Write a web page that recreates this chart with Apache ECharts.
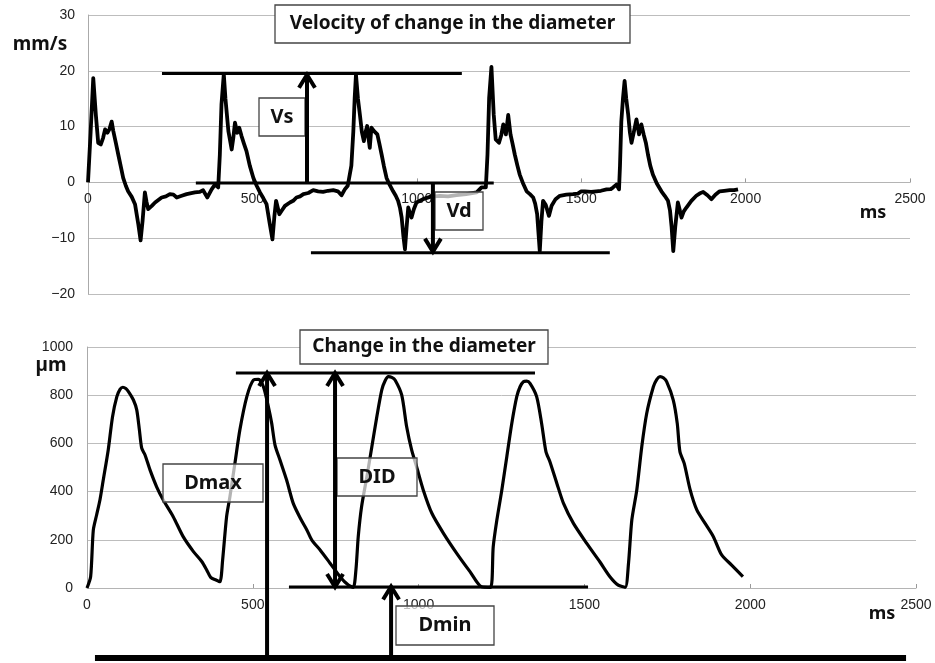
<!DOCTYPE html>
<html>
<head>
<meta charset="utf-8">
<title>Velocity / change in the diameter</title>
<script src="https://cdn.jsdelivr.net/npm/echarts@6/dist/echarts.min.js"></script>
<style>body{margin:0;background:#fff}</style>
</head>
<body>
<div id="main" style="width:935px;height:663px"></div>
<script>
// velocity of change in the diameter, mm/s against ms
var velMs = [0, 8, 16, 24, 31, 39, 46, 52, 59, 65, 72, 77, 85, 92, 100, 107, 115, 122, 133, 143, 153, 160, 166, 173, 178, 183, 194, 204, 224, 237, 249, 260, 270, 285, 300, 325, 340, 350, 363, 376, 386, 396,
  401, 406, 413, 418, 427, 437, 442, 447, 454, 460, 467, 474, 482, 492, 503, 513, 523, 533, 543, 553, 561, 567, 572, 582, 590, 599, 614, 624, 634, 645, 655, 670, 685, 700, 715, 730, 746, 760, 771, 781, 790, 796,
  801, 807, 811, 815, 821, 827, 833, 839, 844, 849, 853, 857, 862, 870, 880, 886, 893, 900, 908, 918, 928, 936, 943, 949, 954, 959, 964, 969, 974, 979, 984, 991, 999, 1019, 1040, 1070, 1095, 1121, 1150, 1182, 1197, 1210,
  1215, 1220, 1227, 1234, 1240, 1250, 1257, 1263, 1271, 1278, 1285, 1291, 1298, 1306, 1313, 1324, 1334, 1344, 1354, 1360, 1366, 1370, 1374, 1379, 1384, 1392, 1402, 1410, 1422, 1435, 1455, 1475, 1490, 1500, 1511, 1530, 1546, 1560, 1577, 1590, 1597, 1607, 1615,
  1618, 1622, 1627, 1632, 1637, 1643, 1648, 1653, 1660, 1668, 1676, 1683, 1690, 1697, 1703, 1710, 1718, 1730, 1744, 1754, 1764, 1770, 1775, 1780, 1786, 1794, 1800, 1805, 1812, 1820, 1835, 1850, 1860, 1871, 1884, 1896, 1908, 1921, 1935, 1952, 1965, 1977];
var velVal = [0, 9, 18.7, 12, 7.1, 6.8, 8, 9.5, 8.9, 9.5, 10.9, 9.2, 7, 5, 2.8, 0.8, -0.6, -1.6, -2.6, -3.9, -7.5, -10.4, -6.9, -1.8, -3.5, -4.8, -4.2, -3.6, -2.7, -2.5, -2.1, -2.2, -2.7, -2.4, -2.1, -1.8, -1.7, -1.4, -2.7, -1.25, -0.4, -0.9,
  5, 14, 19.4, 15, 9.2, 5.9, 8, 10.7, 8.9, 9.8, 8.3, 7, 5.6, 3, 0.8, -0.6, -1.8, -2.8, -3.9, -7.5, -10.2, -6, -3.3, -5.7, -5, -4.2, -3.6, -3.3, -2.7, -2.5, -2.1, -1.9, -1.4, -1.6, -1.7, -1.5, -1.4, -1.6, -2.3, -1.25, -0.6, -0.4,
  3, 9.2, 15, 19.3, 15, 12.1, 9, 7.4, 9, 10.1, 8, 6.2, 9.8, 9.2, 8.6, 7, 5, 2.9, 0.8, -0.5, -1.6, -2.4, -3.3, -4.6, -6.3, -9.5, -12, -8, -4.5, -5.5, -6.3, -4.8, -3.6, -3, -2.6, -2.4, -2.5, -2.3, -2.1, -1.8, -0.9, -0.9,
  5, 15.1, 20.7, 12.1, 7.7, 7.1, 8.5, 10.4, 8.6, 12.1, 8.6, 7, 5, 3, 1.4, -0.3, -1.6, -2.1, -2.7, -3.8, -5.7, -9, -12.3, -7, -3.3, -4, -6, -4.2, -3, -2.4, -2.2, -2.1, -2, -1.6, -1.6, -1.7, -1.6, -1.5, -1.25, -1.2, -0.9, -0.4, -1.25,
  3, 10.9, 15, 18.2, 15, 12.1, 9, 7.1, 9, 11.3, 8.6, 10.4, 8.6, 7, 5, 3, 1.4, -0.2, -1.6, -2.4, -3.3, -5, -8, -12.3, -8, -3.6, -5, -6.3, -5.2, -4.5, -3.3, -2.4, -2, -1.7, -2.3, -3, -2.2, -1.6, -1.5, -1.4, -1.4, -1.25];

// change in the diameter, µm against ms
var diaMs = [0, 11, 19, 29, 39, 49, 64, 77, 90, 100, 108, 117, 125, 140, 150, 158, 165, 175, 190, 210, 230, 260, 290, 321, 346, 361, 373, 389, 401,
  409, 421, 431, 446, 461, 482, 502, 517, 532, 547, 557, 567, 582, 602, 622, 645, 663, 678, 703, 733, 763, 788, 803,
  811, 818, 828, 844, 859, 874, 889, 899, 909, 919, 929, 949, 964, 979, 994, 1014, 1040, 1075, 1115, 1155, 1190, 1217,
  1225, 1236, 1251, 1266, 1281, 1296, 1306, 1316, 1326, 1336, 1356, 1371, 1384, 1396, 1417, 1437, 1467, 1507, 1547, 1577, 1602, 1623,
  1633, 1643, 1658, 1673, 1688, 1708, 1718, 1728, 1738, 1748, 1768, 1780, 1788, 1801, 1819, 1839, 1864, 1889, 1914, 1944, 1978];
var diaVal = [0, 47, 240, 303, 365, 448, 573, 711, 794, 825, 833, 828, 815, 780, 739, 656, 580, 552, 490, 420, 365, 296, 213, 151, 110, 75, 44, 33, 26,
  116, 296, 379, 517, 656, 794, 863, 866, 835, 752, 683, 593, 531, 448, 351, 285, 241, 199, 158, 103, 47, 12, 3,
  75, 213, 337, 462, 586, 711, 822, 860, 877, 874, 863, 801, 669, 573, 503, 407, 310, 227, 144, 68, 5, 3,
  171, 282, 407, 545, 683, 794, 835, 856, 858, 849, 794, 683, 566, 524, 434, 351, 268, 185, 108, 47, 12, 3,
  102, 282, 407, 586, 725, 835, 865, 877, 872, 856, 780, 683, 566, 517, 407, 324, 268, 213, 137, 95, 47];

// annotation lines in data units: [fromMs, toMs, value]
var velLevels = [[225, 1137, 19.5], [328, 1234, -0.1], [678, 1587, -12.6]];
// arrows: [ms, tail value, tip value]
var velArrows = [[666, -0.1, 19.3], [1049, -0.1, -12.4]];
var diaLevels = [[449, 1351, 892], [609, 1511, 4]];
var diaBase = [24, 2470, -290];
// [ms, from, to, arrowhead at both ends]
var diaArrows = [[543, -290, 892, false], [748, 4, 892, true], [917, -290, 6, false]];

function pairs(xs, ys) {
  var out = [];
  for (var i = 0; i < xs.length; i++) out.push([xs[i], ys[i]]);
  return out;
}
function minus(v) { return String(v).replace('-', '\u2212'); }

var labelFont = 'Liberation Sans, Arial, sans-serif';
var boldFont = 'Noto Sans, sans-serif';

var chart = echarts.init(document.getElementById('main'));

var topH = 279;
function xAxisOf(g, offset) {
  return {
    gridIndex: g, type: 'value', min: 0, max: 2500, interval: 500, offset: offset,
    axisLine: { onZero: false, lineStyle: { color: '#b4b4b4', width: 1 } },
    axisTick: { inside: true, length: 4, lineStyle: { color: '#999' } },
    axisLabel: { fontFamily: labelFont, fontSize: 14, color: '#222', margin: 10, formatter: function (v) { return String(v); } },
    splitLine: { show: false }
  };
}
function yAxisOf(g, min, max, step, margin) {
  return {
    gridIndex: g, type: 'value', min: min, max: max, interval: step,
    axisLine: { show: true, lineStyle: { color: '#aaa' } },
    axisTick: { show: false },
    splitLine: { lineStyle: { color: '#bdbdbd', width: 1 } },
    axisLabel: { fontFamily: labelFont, fontSize: 14, color: '#222', margin: margin, formatter: minus }
  };
}

chart.setOption({
  animation: false,
  backgroundColor: '#fff',
  grid: [
    { left: 88, right: 25, top: 15, height: topH },
    { left: 87, right: 19, top: 347, height: 241 }
  ],
  xAxis: [
    // top axis sits on the zero line (-20..30 range)
    xAxisOf(0, -topH * 20 / 50),
    xAxisOf(1, 0)
  ],
  yAxis: [
    yAxisOf(0, -20, 30, 10, 13),
    yAxisOf(1, 0, 1000, 200, 14)
  ],
  series: [
    {
      type: 'line', xAxisIndex: 0, yAxisIndex: 0, data: pairs(velMs, velVal),
      showSymbol: false, silent: true,
      lineStyle: { color: '#000', width: 3.8, join: 'round' }
    },
    {
      type: 'line', xAxisIndex: 1, yAxisIndex: 1, data: pairs(diaMs, diaVal),
      showSymbol: false, silent: true, smooth: 0.25,
      lineStyle: { color: '#000', width: 3.2, join: 'round' }
    }
  ]
});

// annotations, placed through the chart's own scales
function px(g, x, y) { return chart.convertToPixel({ gridIndex: g }, [x, y]); }

var gfx = [];
function seg(a, b, w) {
  gfx.push({ type: 'line', z: 20, shape: { x1: a[0], y1: a[1], x2: b[0], y2: b[1] },
    style: { stroke: '#000', lineWidth: w, lineCap: 'butt' } });
}
function head(tip, up) {
  var d = up ? 13 : -13;
  gfx.push({ type: 'polyline', z: 20,
    shape: { points: [[tip[0] - 8, tip[1] + d], [tip[0], tip[1]], [tip[0] + 8, tip[1] + d]] },
    style: { stroke: '#000', lineWidth: 4, fill: null, lineJoin: 'miter' } });
}
function box(x, y, w, h, text, fs, fill) {
  gfx.push({ type: 'rect', z: 15, shape: { x: x, y: y, width: w, height: h },
    style: { fill: fill, stroke: '#444', lineWidth: 1.3 } });
  gfx.push({ type: 'text', z: 16, x: x + w / 2, y: y + h / 2,
    style: { text: text, fill: '#111', font: 'bold ' + fs + 'px ' + boldFont, align: 'center', verticalAlign: 'middle' } });
}
function label(x, y, text, fs) {
  gfx.push({ type: 'text', z: 16, x: x, y: y,
    style: { text: text, fill: '#111', font: 'bold ' + fs + 'px ' + boldFont, align: 'center', verticalAlign: 'middle' } });
}

velLevels.forEach(function (l) { seg(px(0, l[0], l[2]), px(0, l[1], l[2]), 3); });
velArrows.forEach(function (a) {
  var tail = px(0, a[0], a[1]), tip = px(0, a[0], a[2]);
  seg(tail, tip, 4);
  head(tip, a[2] > a[1]);
});
diaLevels.forEach(function (l) { seg(px(1, l[0], l[2]), px(1, l[1], l[2]), 3); });
seg(px(1, diaBase[0], diaBase[2]), px(1, diaBase[1], diaBase[2]), 6);
diaArrows.forEach(function (a) {
  var tail = px(1, a[0], a[1]), tip = px(1, a[0], a[2]);
  seg(tail, tip, 4);
  head(tip, true);
  if (a[3]) head(tail, false);
});

var soft = 'rgba(255,255,255,0.7)';
box(275, 5, 355, 38, 'Velocity of change in the diameter', 19, '#fff');
box(300, 330, 248, 34, 'Change in the diameter', 19, '#fff');
box(259, 98, 46, 38, 'Vs', 20, '#fff');
box(435, 192, 48, 38, 'Vd', 20, soft);
box(163, 464, 100, 38, 'Dmax', 20, soft);
box(337, 458, 80, 38, 'DID', 20, soft);
box(396, 606, 98, 39, 'Dmin', 20, soft);
label(40, 45, 'mm/s', 19);
label(51, 366, 'µm', 19);
label(873, 213, 'ms', 18);
label(882, 614, 'ms', 18);

chart.setOption({ graphic: gfx });
</script>
</body>
</html>
